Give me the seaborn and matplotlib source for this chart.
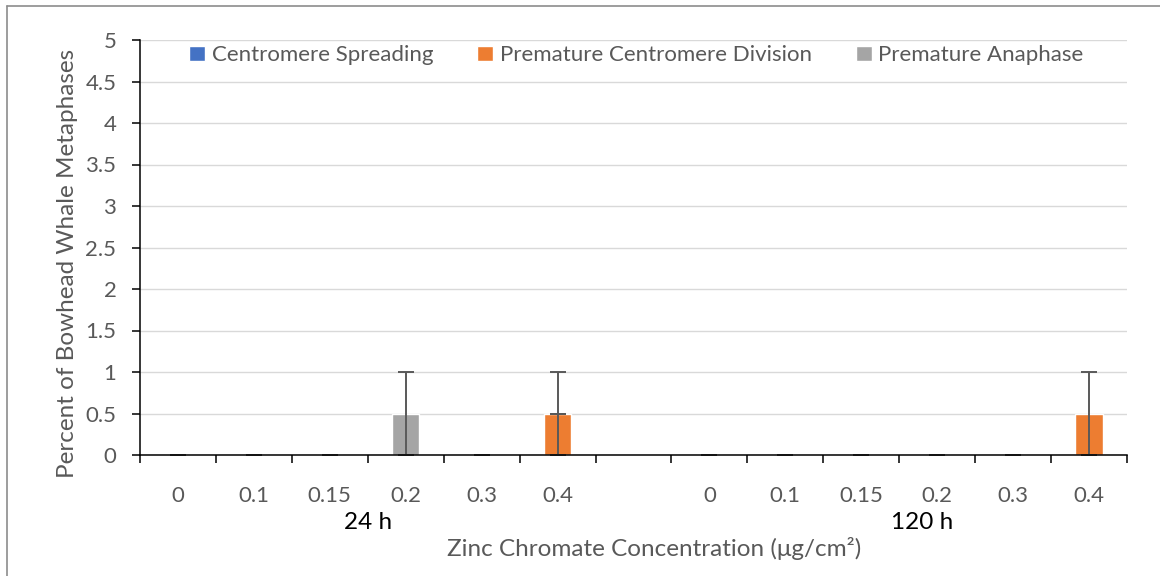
import pandas as pd
import matplotlib.pyplot as plt
import seaborn as sns
from matplotlib.lines import Line2D
from matplotlib.transforms import blended_transform_factory

# categories
groups = ['24 h', '120 h']
concentrations = ['0', '0.1', '0.15', '0.2', '0.3', '0.4']
series = ['Centromere Spreading', 'Premature Centromere Division', 'Premature Anaphase']
colors = ['#4472C4', '#ED7D31', '#A5A5A5']

# values (percent), one list per series: 24 h then 120 h
spreading_24 = [0, 0, 0, 0, 0, 0.5]
spreading_120 = [0, 0, 0, 0, 0, 0]
division_24 = [0, 0, 0, 0, 0, 0.5]
division_120 = [0, 0, 0, 0, 0, 0.5]
anaphase_24 = [0, 0, 0, 0.5, 0, 0]
anaphase_120 = [0, 0, 0, 0, 0, 0]

# error (SE)
spreading_err_24 = [0, 0, 0, 0, 0, 0]
spreading_err_120 = [0, 0, 0, 0, 0, 0]
division_err_24 = [0, 0, 0, 0, 0, 0.5]
division_err_120 = [0, 0, 0, 0, 0, 0.5]
anaphase_err_24 = [0, 0, 0, 0.5, 0, 0]
anaphase_err_120 = [0, 0, 0, 0, 0, 0]

values = {
    series[0]: (spreading_24 + spreading_120, spreading_err_24 + spreading_err_120),
    series[1]: (division_24 + division_120, division_err_24 + division_err_120),
    series[2]: (anaphase_24 + anaphase_120, anaphase_err_24 + anaphase_err_120),
}

keys = [f'{g}|{c}' for g in groups for c in concentrations]
order = keys[:6] + ['gap'] + keys[6:]

rows = []
for s, (vals, errs) in values.items():
    for k, v, e in zip(keys, vals, errs):
        rows.append({'key': k, 'series': s, 'value': v, 'err': e})
df = pd.DataFrame(rows)

sns.set_style('white')
plt.rcParams['font.family'] = ['Lato', 'DejaVu Sans']

fig = plt.figure(figsize=(11.6, 5.76), dpi=100)
ax = fig.add_axes([140 / 1160, 1 - 455 / 576, 987 / 1160, 415 / 576])

sns.barplot(data=df, x='key', y='value', hue='series', order=order,
            hue_order=series, palette=colors, dodge=False, width=0.36,
            errorbar=None, saturation=1, ax=ax, zorder=2)

for s in series:
    sub = df[df['series'] == s]
    xs = [order.index(k) for k in sub['key']]
    ax.errorbar(xs, sub['value'], yerr=sub['err'], fmt='none',
                ecolor='#595959', elinewidth=1.4, capsize=5.5, capthick=1.4,
                zorder=4)

ax.set_xlim(-0.5, len(order) - 0.5)
ax.set_ylim(0, 5)
yt = [i * 0.5 for i in range(11)]
ax.set_yticks(yt)
ax.set_yticklabels([f'{t:g}' for t in yt])
ax.set_xticks(range(len(order)))
ax.set_xticklabels(concentrations + [''] + concentrations)
ax.set_xticks([i - 0.5 for i in range(len(order) + 1)], minor=True)
ax.tick_params(axis='x', which='major', length=0, pad=22,
               labelsize=16, labelcolor='#595959')
ax.tick_params(axis='x', which='minor', length=6, width=1.1,
               direction='out', color='black', bottom=True)
ax.tick_params(axis='y', length=6, width=1.1, direction='out', left=True,
               color='black', labelsize=16, labelcolor='#595959', pad=11)

ax.grid(axis='y', color='#D9D9D9', linewidth=1.0, zorder=0)
ax.set_axisbelow(True)
for side in ['top', 'right']:
    ax.spines[side].set_visible(False)
for side in ['left', 'bottom']:
    ax.spines[side].set_color('black')
    ax.spines[side].set_linewidth(1.1)
ax.spines['bottom'].set_zorder(5)

ax.set_xlabel('')
ax.set_ylabel('')

trans = blended_transform_factory(ax.transData, ax.transAxes)
ax.text(2.5, -0.163, groups[0], transform=trans, ha='center', va='center',
        fontsize=17.5, color='black')
ax.text(9.8, -0.163, groups[1], transform=trans, ha='center', va='center',
        fontsize=17.5, color='black')

fig.text(654 / 1160, 1 - 548 / 576, 'Zinc Chromate Concentration (μg/cm²)',
         ha='center', va='center', fontsize=17.5, color='#595959')
fig.text(68 / 1160, 1 - 263 / 576, 'Percent of Bowhead Whale Metaphases',
         ha='center', va='center', rotation=90, fontsize=17.5, color='#595959')

handles, labels = ax.get_legend_handles_labels()
ax.legend(handles[:3], labels[:3], loc='center', bbox_to_anchor=(0.503, 0.963),
          ncol=3, frameon=False, fontsize=16, handlelength=0.7,
          handleheight=0.7, handletextpad=0.3, columnspacing=2.0,
          labelcolor='#595959')

# chart area border (top and left edges visible)
fig.add_artist(Line2D([7 / 1160, 7 / 1160], [0, 1 - 6 / 576],
                      transform=fig.transFigure, color='#8C8C8C', lw=1.2))
fig.add_artist(Line2D([7 / 1160, 1], [1 - 6 / 576, 1 - 6 / 576],
                      transform=fig.transFigure, color='#8C8C8C', lw=1.2))

fig.savefig('out.png', dpi=100, facecolor='white')
